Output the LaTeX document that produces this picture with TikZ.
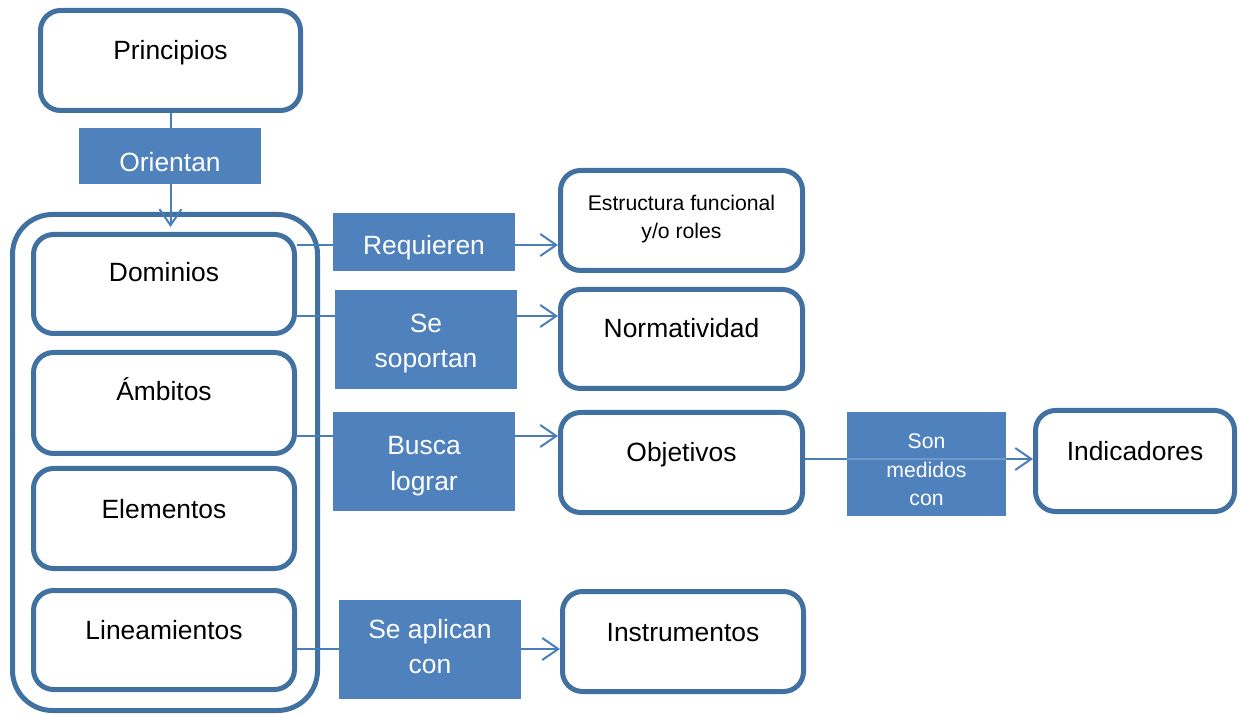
\documentclass[tikz,border=0pt]{standalone}
\usepackage{fontspec}
\setmainfont{Liberation Sans}
\usetikzlibrary{arrows.meta}
\definecolor{boxc}{RGB}{65,113,160}
\definecolor{lblc}{RGB}{79,129,189}
\definecolor{linec}{RGB}{74,126,187}
\tikzset{
  box/.style={draw=boxc, line width=2.5pt, rounded corners=10pt, fill=white, inner sep=0pt},
  lbl/.style={fill=lblc, draw=none, inner sep=0pt},
  txt/.style={font=\fontsize{13.2}{17.5}\selectfont, align=center, anchor=base, inner sep=0pt},
  smalltxt/.style={font=\fontsize{10.6}{14.4}\selectfont, align=center, anchor=base, inner sep=0pt},
  wtxt/.style={text=white},
  conn/.style={draw=linec, line width=1pt, -{Straight Barb[length=8pt,width=11pt,line width=1pt]}}
}
\begin{document}
\begin{tikzpicture}[x=0.5pt,y=-0.5pt]
\useasboundingbox (0,0) rectangle (1241,715);
% outer group
\node[box, rounded corners=20pt, fill=none, minimum width=152.5pt, minimum height=248pt] (grp) at (165,462.5) {};
% boxes
\node[box, minimum width=130pt, minimum height=50pt] (pri) at (170.5,60.5) {};
\node[box, minimum width=130.5pt, minimum height=49.5pt] (dom) at (164,284) {};
\node[box, minimum width=130.5pt, minimum height=50.5pt] (amb) at (164,403) {};
\node[box, minimum width=130.5pt, minimum height=50pt] (ele) at (164,518.5) {};
\node[box, minimum width=130.5pt, minimum height=49.5pt] (lin) at (164,640) {};
\node[box, minimum width=121pt, minimum height=50pt] (est) at (681.5,220.5) {};
\node[box, minimum width=121pt, minimum height=49.5pt] (nor) at (681.5,339) {};
\node[box, minimum width=121pt, minimum height=50pt] (obj) at (681.5,462.5) {};
\node[box, minimum width=99.5pt, minimum height=50.5pt] (ind) at (1135,461) {};
\node[box, minimum width=120.5pt, minimum height=50pt] (ins) at (683,641.5) {};
% connector levels
\coordinate (y1) at (0,245);
\coordinate (y2) at (0,316);
\coordinate (y3) at (0,436);
\coordinate (y4) at (0,459);
\coordinate (y5) at (0,649);
% connectors
\draw[conn, shorten >=2.5pt] (pri.south) -- (pri.south |- dom.north);
\draw[conn] (dom.east |- y1) -- (est.west |- y1);
\draw[conn] (dom.east |- y2) -- (nor.west |- y2);
\draw[conn] (amb.east |- y3) -- (obj.west |- y3);
\draw[conn] (obj.east |- y4) -- (ind.west |- y4);
\draw[conn] (lin.east |- y5) -- (ins.west |- y5);
% labels
\node[lbl, minimum width=91pt, minimum height=28pt] (ori) at (170,156) {};
\node[lbl, minimum width=91pt, minimum height=29pt] (req) at (424,242) {};
\node[lbl, minimum width=91pt, minimum height=49.5pt] (sop) at (426,339.5) {};
\node[lbl, minimum width=91pt, minimum height=49.5pt] (bus) at (424,461.5) {};
\node[lbl, minimum width=79.5pt, minimum height=52pt] (son) at (926.5,464) {};
\node[lbl, minimum width=91pt, minimum height=49.5pt] (apl) at (430,649.5) {};
\draw[draw=linec!60!white, line width=0.6pt, opacity=0.5] (son.west |- y4) -- (son.east |- y4);
% texts
\node[txt] (pri-t) at (170.5,60) {Principios};
\node[txt, wtxt] (ori-t) at (170,172) {Orientan};
\node[txt] (dom-t) at (164,282) {Dominios};
\node[txt] (amb-t) at (164,401) {Ámbitos};
\node[txt] (ele-t) at (164,518) {Elementos};
\node[txt] (lin-t) at (164,639) {Lineamientos};
\node[txt, wtxt] (req-t) at (424,255) {Requieren};
\node[txt, wtxt] (sop-t) at (426,368) {Se\\soportan};
\node[smalltxt] (est-t) at (681.5,239) {Estructura funcional\\y/o roles};
\node[txt] (nor-t) at (681.5,338) {Normatividad};
\node[txt, wtxt] (bus-t) at (424,490) {Busca\\lograr};
\node[txt] (obj-t) at (681.5,462) {Objetivos};
\node[smalltxt, wtxt] (son-t) at (926.5,506) {Son\\medidos\\con};
\node[txt] (ind-t) at (1135,461) {Indicadores};
\node[txt, wtxt] (apl-t) at (430,673) {Se aplican\\con};
\node[txt] (ins-t) at (683,641) {Instrumentos};
\end{tikzpicture}
\end{document}
